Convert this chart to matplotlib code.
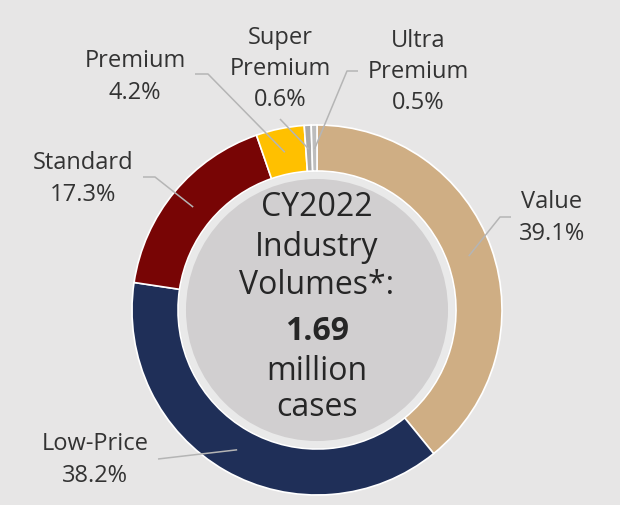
import numpy as np
import matplotlib.pyplot as plt

# Donut chart: CY2022 industry volumes by price segment
segments = ["Value", "Low-Price", "Standard", "Premium", "Super\nPremium", "Ultra\nPremium"]
shares = [39.1, 38.2, 17.3, 4.2, 0.6, 0.5]
colors = ["#cfae84", "#1f2f58", "#780505", "#ffc000", "#a9a9a9", "#bdbdbd"]

center_lines = ["CY2022", "Industry", "Volumes*:", "1.69", "million", "cases"]
center_bold = [False, False, False, True, False, False]

# layout, in pixels of the 620x505 canvas
CX, CY, R = 317, 310, 185
label_pos = [(552, 218), (95, 460), (83, 179), (135, 77), (280, 69), (418, 72)]
# leader line start points (and optional elbow) in pixels
leader_pts = [
    [(511, 217), (500, 217)],
    [(158, 459)],
    [(143, 177), (155, 177)],
    [(195, 74), (208, 74)],
    [(280, 119)],
    [(358, 71), (347, 71)],
]
center_y = [208, 247, 285, 332, 372, 408]

BG = "#e7e6e6"
TEXT = "#333333"

plt.rcParams["font.family"] = ["Open Sans", "DejaVu Sans"]


def px(x, y):
    """Convert canvas pixel position to data units (radius 1 = outer ring)."""
    return (x - CX) / R, (CY - y) / R


fig = plt.figure(figsize=(6.2, 5.05), dpi=100, facecolor=BG)
ax = fig.add_axes([0, 0, 1, 1])
ax.set_facecolor(BG)

ring_in = 139 / R
wedges, _ = ax.pie(
    shares,
    colors=colors,
    startangle=90,
    counterclock=False,
    radius=1.0,
    wedgeprops=dict(width=1 - ring_in, edgecolor="white", linewidth=1.2),
)

# centre disc with a pale rim
disc = plt.Circle((0, 0), 134.5 / R, facecolor="#d1cfd0", edgecolor="#e9e9e9",
                  linewidth=5, zorder=3)
ax.add_patch(disc)

# leader lines from the labels to the middle of each wedge
mid_r = 161 / R
for w, pts in zip(wedges, leader_pts):
    ang = np.deg2rad((w.theta1 + w.theta2) / 2)
    xs = [px(*p)[0] for p in pts] + [mid_r * np.cos(ang)]
    ys = [px(*p)[1] for p in pts] + [mid_r * np.sin(ang)]
    ax.plot(xs, ys, color="#b5b5b5", linewidth=1.1, zorder=4,
            solid_capstyle="butt")

# segment labels
for name, val, (lx, ly) in zip(segments, shares, label_pos):
    x, y = px(lx, ly)
    ax.text(x, y, f"{name}\n{val:.1f}%", ha="center", va="center",
            multialignment="center", fontsize=17, color=TEXT, linespacing=1.39,
            zorder=5)

# centre text
for line, bold, ty in zip(center_lines, center_bold, center_y):
    x, y = px(CX, ty)
    ax.text(x, y, line, ha="center", va="center", fontsize=23,
            fontweight="bold" if bold else "normal", color="#262626", zorder=5)

x0, y0 = px(0, 505)
x1, y1 = px(620, 0)
ax.set_xlim(x0, x1)
ax.set_ylim(y0, y1)
ax.set_aspect("equal")
ax.axis("off")

fig.savefig("out.png", dpi=100, facecolor=BG)
